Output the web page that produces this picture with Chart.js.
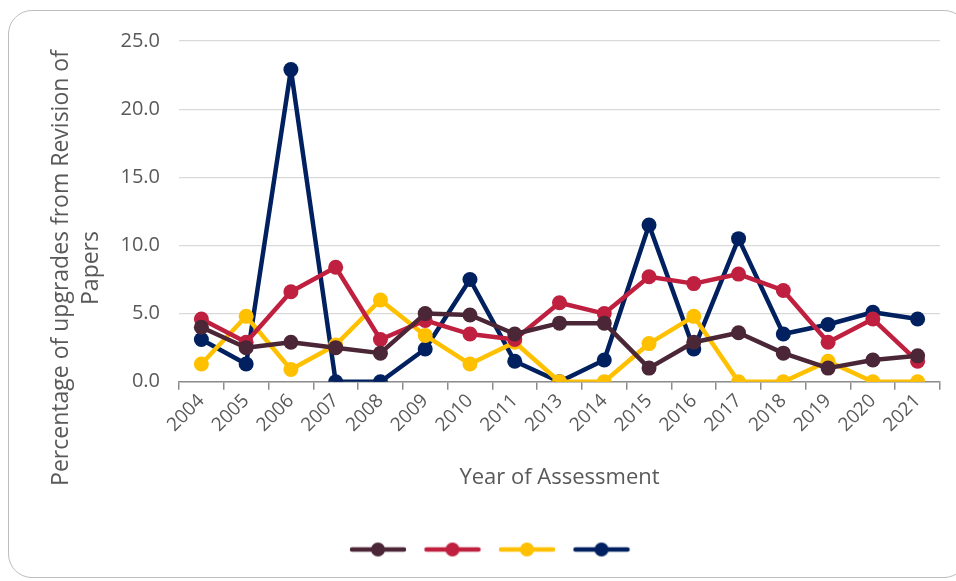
<!DOCTYPE html>
<html>
<head>
<meta charset="utf-8">
<script src="https://cdn.jsdelivr.net/npm/chart.js@4.4.1/dist/chart.umd.min.js"></script>
<style>
  html, body { margin: 0; padding: 0; background: #fff; }
  #wrap { position: relative; width: 956px; height: 581px; overflow: hidden; }
  #frame { position: absolute; left: 8px; top: 10px; width: 960px; height: 568px;
           border: 1.5px solid #bdbdbd; border-radius: 24px; box-sizing: border-box; }
  #chart { position: absolute; left: 0; top: 0; }
</style>
</head>
<body>
<div id="wrap">
  <div id="frame"></div>
  <canvas id="chart" width="956" height="581"></canvas>
</div>
<script>
const years = ["2004", "2005", "2006", "2007", "2008", "2009", "2010", "2011", "2013",
               "2014", "2015", "2016", "2017", "2018", "2019", "2020", "2021"];

const maroonValues = [4.0, 2.5, 2.9, 2.5, 2.1, 5.0, 4.9, 3.5, 4.3, 4.3, 1.0, 2.9, 3.6, 2.1, 1.0, 1.6, 1.9];
const crimsonValues = [4.6, 2.9, 6.6, 8.4, 3.1, 4.5, 3.5, 3.1, 5.8, 5.0, 7.7, 7.2, 7.9, 6.7, 2.9, 4.6, 1.5];
const goldValues = [1.3, 4.8, 0.9, 2.7, 6.0, 3.4, 1.3, 2.9, 0.0, 0.0, 2.8, 4.8, 0.0, 0.0, 1.5, 0.0, 0.0];
const navyValues = [3.1, 1.3, 22.9, 0.0, 0.0, 2.4, 7.5, 1.5, 0.0, 1.6, 11.5, 2.4, 10.5, 3.5, 4.2, 5.1, 4.6];

const yTicks = [0, 5, 10, 15, 20, 25];
const yTitleLines = ["Percentage of upgrades from Revision of", "Papers"];

const seriesColors = ["#4a2636", "#c0203f", "#ffc000", "#002060"];
const textColor = "#595959";
const fontFam = "'Open Sans', sans-serif";

// small legend swatch: a line with a dot in the middle
function swatch(color) {
    const c = document.createElement("canvas");
    c.width = 58; c.height = 16;
    const g = c.getContext("2d");
    g.strokeStyle = color;
    g.lineWidth = 4.5;
    g.lineCap = "round";
    g.beginPath(); g.moveTo(3, 8); g.lineTo(55, 8); g.stroke();
    g.fillStyle = color;
    g.beginPath(); g.arc(29, 8, 7, 0, Math.PI * 2); g.fill();
    return c;
}

function makeSet(data, color) {
    return {
        label: "",
        data: data,
        borderColor: color,
        backgroundColor: color,
        borderWidth: 4.5,
        borderJoinStyle: "round",
        borderCapStyle: "round",
        pointRadius: 7.5,
        pointHoverRadius: 7.5,
        pointBorderWidth: 0,
        tension: 0,
        pointStyle: "circle"
    };
}

const datasets = [
    makeSet(maroonValues, seriesColors[0]),
    makeSet(crimsonValues, seriesColors[1]),
    makeSet(goldValues, seriesColors[2]),
    makeSet(navyValues, seriesColors[3])
];

// the y title sits lower than the plot centre in the original, so draw it by hand
const yTitlePlugin = {
    id: "yTitle",
    afterDraw: function (chart) {
        const c = chart.ctx;
        c.save();
        c.fillStyle = textColor;
        c.font = "23px " + fontFam;
        c.textAlign = "center";
        c.textBaseline = "middle";
        const xs = [61, 91];
        yTitleLines.forEach(function (line, i) {
            c.save();
            c.translate(xs[i], 268);
            c.rotate(-Math.PI / 2);
            c.fillText(line, 0, 0);
            c.restore();
        });
        c.restore();
    }
};

const config = {
    type: "line",
    data: { labels: years, datasets: datasets },
    plugins: [yTitlePlugin],
    options: {
        responsive: false,
        animation: false,
        layout: { padding: { left: 40, right: 16, top: 41, bottom: 21 } },
        plugins: {
            tooltip: { enabled: false },
            legend: {
                position: "bottom",
                labels: {
                    usePointStyle: true,
                    pointStyleWidth: 56,
                    padding: 18,
                    font: { size: 1 },
                    generateLabels: function (chart) {
                        return chart.data.datasets.map(function (ds, i) {
                            return {
                                text: "",
                                pointStyle: swatch(seriesColors[i]),
                                fillStyle: seriesColors[i],
                                strokeStyle: seriesColors[i],
                                lineWidth: 0,
                                datasetIndex: i,
                                hidden: false
                            };
                        });
                    }
                }
            }
        },
        scales: {
            x: {
                offset: true,
                grid: { offset: true, drawOnChartArea: false, drawTicks: true, tickLength: 8, color: "#8c8c8c", lineWidth: 1.5 },
                border: { display: true, color: "#8c8c8c", width: 1.5 },
                ticks: { color: textColor, font: { family: fontFam, size: 19 }, maxRotation: 45, minRotation: 45, padding: 0 },
                title: { display: true, text: "Year of Assessment", color: textColor, font: { family: fontFam, size: 22 }, padding: { top: 28, bottom: 40 } }
            },
            y: {
                min: 0,
                max: 25,
                afterBuildTicks: function (axis) { axis.ticks = yTicks.map(function (v) { return { value: v }; }); },
                afterFit: function (axis) { axis.width = 139; },
                grid: { color: "#d9d9d9", lineWidth: 1.2, drawTicks: false },
                border: { display: false },
                ticks: {
                    color: textColor, font: { family: fontFam, size: 20 }, padding: 19,
                    callback: function (v) { return Number(v).toFixed(1); }
                }
            }
        }
    }
};

const ctx = document.getElementById("chart").getContext("2d");
const myChart = new Chart(ctx, config);
</script>
</body>
</html>
